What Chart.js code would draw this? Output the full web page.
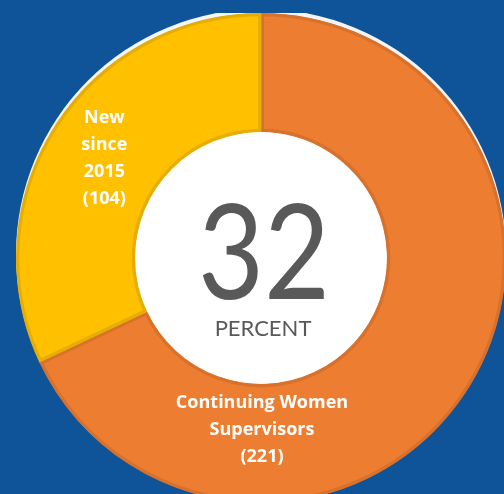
<!DOCTYPE html>
<html>
<head>
<meta charset="utf-8">
<script src="https://cdn.jsdelivr.net/npm/chart.js@4/dist/chart.umd.min.js"></script>
<style>
  html, body { margin: 0; padding: 0; }
  body {
    width: 504px; height: 494px; overflow: hidden;
    background: #0F5499; position: relative;
  }
  /* chart box is bigger than the window on purpose, the ring runs off the right/bottom */
  #wrap { position: absolute; left: 16px; top: 13px; width: 490px; height: 490px; }
</style>
</head>
<body>
<div id="wrap"><canvas id="ring"></canvas></div>
<script>
const categories = ['Continuing Women Supervisors', 'New since 2015'];
const counts = [221, 104];
const labelLines = [['Continuing Women', 'Supervisors', '(221)'], ['New', 'since', '2015', '(104)']];
const centerValue = '32';
const centerUnit = 'PERCENT';

const fillColors = ['#ED7D31', '#FFC000'];
const edgeColors = ['#D8712C', '#E6AD04'];

// white disc in the hole + light rim at the top
const ringDecor = {
  id: 'ringDecor',
  beforeDatasetsDraw(chart) {
    const arc = chart.getDatasetMeta(0).data[0];
    const { x, y, outerRadius, innerRadius } = arc.getProps(['x', 'y', 'outerRadius', 'innerRadius'], true);
    const ctx = chart.ctx;
    ctx.save();
    ctx.fillStyle = 'rgba(255,255,255,0.95)';
    ctx.beginPath();
    ctx.arc(x, y - 4, outerRadius, 0, Math.PI * 2);
    ctx.fill();
    ctx.fillStyle = '#FFFFFF';
    ctx.beginPath();
    ctx.arc(x, y, innerRadius + 1, 0, Math.PI * 2);
    ctx.fill();
    ctx.restore();
  },
  afterDatasetsDraw(chart) {
    const meta = chart.getDatasetMeta(0);
    const first = meta.data[0].getProps(['x', 'y'], true);
    const cx = first.x, cy = first.y;
    const ctx = chart.ctx;
    ctx.save();
    ctx.textAlign = 'center';
    ctx.textBaseline = 'middle';

    // big number, squeezed to the width seen in the picture
    ctx.fillStyle = '#595959';
    ctx.font = '400 132px Lato, "Open Sans", sans-serif';
    const w = ctx.measureText(centerValue).width;
    ctx.save();
    ctx.translate(cx + 3, cy - 2);
    ctx.scale(132 / w, 1);
    ctx.fillText(centerValue, 0, 0);
    ctx.restore();

    ctx.font = '400 22px Lato, "Open Sans", sans-serif';
    ctx.fillText(centerUnit, cx + 2, cy + 71);

    // slice labels
    ctx.fillStyle = '#FFFFFF';
    ctx.font = '700 18px "Open Sans", Lato, sans-serif';
    const lh = 27;
    // yellow slice: around the middle of the arc
    const a = meta.data[1].getProps(['startAngle', 'endAngle', 'outerRadius', 'innerRadius'], true);
    const mid = (a.startAngle + a.endAngle) / 2;
    const r = (a.outerRadius + a.innerRadius) / 2;
    const yx = cx + Math.cos(mid) * r;
    const yy = cy + Math.sin(mid) * r;
    labelLines[1].forEach((t, i) => {
      ctx.fillText(t, yx, yy - lh * 1.5 + i * lh);
    });
    // orange slice: straight below the centre
    const oy = cy + 172;
    labelLines[0].forEach((t, i) => {
      ctx.fillText(t, cx + 1, oy - lh + i * lh);
    });
    ctx.restore();
  }
};

new Chart(document.getElementById('ring'), {
  type: 'doughnut',
  data: {
    labels: categories,
    datasets: [{
      data: counts,
      backgroundColor: fillColors,
      borderColor: edgeColors,
      borderWidth: 3,
      borderAlign: 'inner',
      hoverOffset: 0
    }]
  },
  options: {
    responsive: true,
    maintainAspectRatio: false,
    animation: false,
    cutout: '51.4%',
    layout: { padding: 0 },
    plugins: {
      legend: { display: false },
      tooltip: { enabled: false }
    }
  },
  plugins: [ringDecor]
});
</script>
</body>
</html>
